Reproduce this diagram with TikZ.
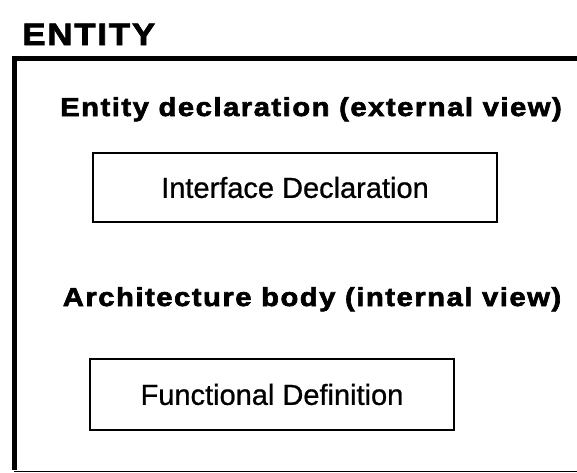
\documentclass[tikz,border=0pt]{standalone}
\usepackage{fontspec}
\setmainfont{Liberation Sans}
\newfontfamily\headfont[FakeStretch=1.12,LetterSpace=6,FakeBold=2.5]{Liberation Sans Bold}
\newfontfamily\boxfont[FakeBold=0.8]{Liberation Sans}
\begin{document}
\begin{tikzpicture}[x=1pt,y=-1pt,thick]
\useasboundingbox (0,0) rectangle (577,472);
\tikzset{
  heading/.style={font=\headfont\fontsize{26}{26}\selectfont,inner sep=0pt,anchor=base},
  partbox/.style={draw,line width=2.5pt,font=\boxfont\fontsize{29}{29}\selectfont,inner sep=0pt}
}
% outer frame, open to the right
\draw[line width=5pt] (577,58) -- (14,58) -- (14,470);
\draw[line width=1pt] (14,471) -- (577,471);

\node[font=\headfont\fontsize{31}{31}\selectfont,inner sep=0pt,anchor=base west] (entity) at (22,45) {ENTITY};

\node[heading] (decl) at (311,116) {Entity declaration (external view)};
\node[partbox,minimum width=404pt,minimum height=69pt] (iface) at (295,187.5) {Interface Declaration};

\node[heading] (arch) at (312,306) {Architecture body (internal view)};
\node[partbox,minimum width=364pt,minimum height=71pt] (func) at (272,394.5) {Functional Definition};
\end{tikzpicture}
\end{document}
